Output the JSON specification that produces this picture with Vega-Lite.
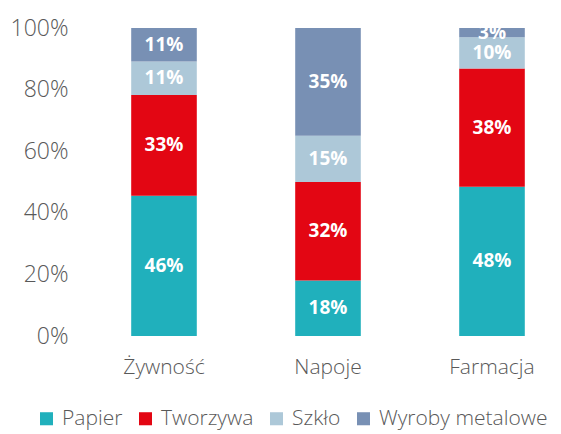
{
  "$schema": "https://vega.github.io/schema/vega-lite/v6.json",
  "width": 492,
  "height": 308,
  "autosize": {"type": "none"},
  "padding": {"left": 82, "top": 28, "right": 0, "bottom": 98},
  "background": "white",
  "config": {"view": {"stroke": null}, "font": "Open Sans"},
  "data": {
    "values": [
      {"cat": "Żywność", "type": "Papier", "ord": 1, "value": 46},
      {"cat": "Żywność", "type": "Tworzywa", "ord": 2, "value": 33},
      {"cat": "Żywność", "type": "Szkło", "ord": 3, "value": 11},
      {"cat": "Żywność", "type": "Wyroby metalowe", "ord": 4, "value": 11},
      {"cat": "Napoje", "type": "Papier", "ord": 1, "value": 18},
      {"cat": "Napoje", "type": "Tworzywa", "ord": 2, "value": 32},
      {"cat": "Napoje", "type": "Szkło", "ord": 3, "value": 15},
      {"cat": "Napoje", "type": "Wyroby metalowe", "ord": 4, "value": 35},
      {"cat": "Farmacja", "type": "Papier", "ord": 1, "value": 48},
      {"cat": "Farmacja", "type": "Tworzywa", "ord": 2, "value": 38},
      {"cat": "Farmacja", "type": "Szkło", "ord": 3, "value": 10},
      {"cat": "Farmacja", "type": "Wyroby metalowe", "ord": 4, "value": 3}
    ]
  },
  "transform": [
    {"stack": "value", "groupby": ["cat"], "sort": [{"field": "ord", "order": "ascending"}], "offset": "normalize", "as": ["y0", "y1"]},
    {"calculate": "(datum.y0 + datum.y1) / 2", "as": "ym"},
    {"calculate": "datum.value + '%'", "as": "label"}
  ],
  "encoding": {
    "x": {
      "field": "cat",
      "type": "nominal",
      "sort": ["Żywność", "Napoje", "Farmacja"],
      "scale": {"paddingInner": 0.6, "paddingOuter": 0.3},
      "axis": {
        "title": null,
        "domain": false,
        "ticks": false,
        "labelAngle": 0,
        "labelPadding": 20,
        "labelFontSize": 21,
        "labelFontWeight": 300,
        "labelColor": "#595959",
        "labelFont": "Open Sans"
      }
    }
  },
  "layer": [
    {
      "mark": {"type": "bar"},
      "encoding": {
        "y": {
          "field": "y0",
          "type": "quantitative",
          "scale": {"domain": [0, 1]},
          "axis": {
            "title": null,
            "domain": false,
            "ticks": false,
            "grid": false,
            "format": ".0%",
            "values": [0, 0.2, 0.4, 0.6, 0.8, 1],
            "labelPadding": 14,
            "labelFontSize": 23,
            "labelFontWeight": 300,
            "labelColor": "#595959",
            "labelFont": "Open Sans"
          }
        },
        "y2": {"field": "y1"},
        "color": {
          "field": "type",
          "type": "nominal",
          "scale": {
            "domain": ["Papier", "Tworzywa", "Szkło", "Wyroby metalowe"],
            "range": ["#20B0BC", "#E30613", "#ADC8D8", "#7890B4"]
          },
          "legend": {
            "title": null,
            "orient": "none",
            "direction": "horizontal",
            "legendX": -46,
            "legendY": 380,
            "symbolType": "square",
            "symbolSize": 170,
            "symbolStrokeWidth": 0,
            "labelFontSize": 21,
            "labelFontWeight": 300,
            "labelColor": "#595959",
            "labelFont": "Open Sans",
            "labelLimit": 0,
            "labelOffset": 5,
            "columnPadding": 12
          }
        }
      }
    },
    {
      "mark": {"type": "text", "color": "white", "fontWeight": "bold", "fontSize": 19, "font": "Open Sans"},
      "encoding": {
        "y": {"field": "ym", "type": "quantitative"},
        "text": {"field": "label"}
      }
    }
  ]
}
